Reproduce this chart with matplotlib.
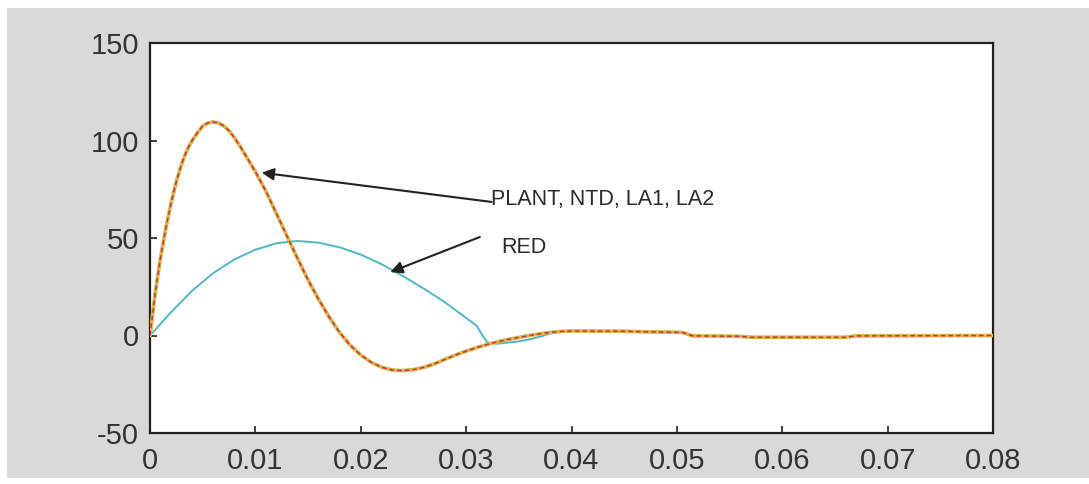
import matplotlib
matplotlib.use("Agg")
import matplotlib.pyplot as plt
from matplotlib import font_manager
from matplotlib.patches import Rectangle

# Time axis (s) and responses
t_plant = [0, 0.0005, 0.001, 0.0015, 0.002, 0.0025, 0.003, 0.0035, 0.004, 0.0045,
           0.005, 0.0055, 0.006, 0.0065, 0.007, 0.0075, 0.008, 0.0085, 0.009, 0.0095,
           0.010, 0.011, 0.012, 0.013, 0.014, 0.015, 0.016, 0.017, 0.018, 0.019,
           0.020, 0.021, 0.022, 0.023, 0.024, 0.025, 0.026, 0.027, 0.028, 0.029,
           0.030, 0.031, 0.032, 0.033, 0.034, 0.035, 0.036, 0.037, 0.038, 0.039,
           0.040, 0.045, 0.047, 0.0505, 0.0515, 0.056, 0.057, 0.066, 0.067, 0.080]
y_plant = [0, 22, 40, 55, 68, 79, 88, 95, 100, 104,
           107.5, 109, 109.5, 109, 107.5, 105, 101.5, 97.5, 93, 88.5,
           84, 74, 62.5, 51, 39.5, 28.5, 18.5, 9.5, 1.5, -5,
           -10, -13.8, -16.3, -17.7, -18, -17.5, -16.3, -14.5, -12.2, -10,
           -8, -6.2, -4.6, -3.2, -2, -1, 0, 0.9, 1.6, 2.1,
           2.3, 2.2, 1.9, 1.6, -0.2, -0.4, -0.9, -0.9, -0.2, 0]

t_red = [0, 0.002, 0.004, 0.006, 0.008, 0.010, 0.012, 0.014, 0.016, 0.018,
         0.020, 0.022, 0.024, 0.026, 0.028, 0.030, 0.031, 0.0315, 0.032, 0.033,
         0.034, 0.035, 0.036, 0.037, 0.038, 0.039, 0.040, 0.045, 0.047, 0.0505,
         0.0515, 0.056, 0.057, 0.066, 0.067, 0.080]
y_red = [0, 12, 23, 32, 39, 44, 47.3, 48.5, 47.6, 45.2,
         41.5, 36.5, 30.5, 24, 17, 9, 5, 0.5, -3.5, -4.2,
         -3.6, -3, -2, -0.6, 1, 1.9, 2.3, 2.2, 1.9, 1.6,
         -0.2, -0.4, -0.9, -0.9, -0.2, 0]

x_ticks = [0, 0.01, 0.02, 0.03, 0.04, 0.05, 0.06, 0.07, 0.08]
x_ticklabels = ["0", "0.01", "0.02", "0.03", "0.04", "0.05", "0.06", "0.07", "0.08"]
y_ticks = [-50, 0, 50, 100, 150]
y_ticklabels = ["-50", "0", "50", "100", "150"]

plant_label = "PLANT, NTD, LA1, LA2"
red_label = "RED"


def first_font(names):
    avail = {f.name for f in font_manager.fontManager.ttflist}
    for n in names:
        if n in avail:
            return n
    return "DejaVu Sans"


tick_font = first_font(["Liberation Sans Narrow", "DejaVu Sans Condensed", "Liberation Sans"])
text_font = first_font(["Liberation Sans", "Arial", "DejaVu Sans"])

fig = plt.figure(figsize=(10.89, 4.84), dpi=100, facecolor="white")
# grey window panel behind the axes
fig.add_artist(Rectangle((7 / 1089, 6 / 484), 1 - 7 / 1089, 1 - 14 / 484,
                         transform=fig.transFigure, facecolor="#d9d9d9",
                         edgecolor="none", zorder=-10))

ax = fig.add_axes([150 / 1089, 51 / 484, 843 / 1089, 390 / 484])
ax.set_zorder(1)
ax.set_facecolor("white")

ax.plot(t_plant, y_plant, color="#b9c046", lw=2.6, solid_capstyle="round", zorder=3)
ax.plot(t_plant, y_plant, color="#f0b050", lw=2.0, zorder=4)
ax.plot(t_plant, y_plant, color="#b83a3a", lw=1.1, dashes=(3, 2), zorder=5)
ax.plot(t_red, y_red, color="#4db8c6", lw=1.4, zorder=2)

ax.set_xlim(0, 0.08)
ax.set_ylim(-50, 150)
ax.set_xticks(x_ticks)
ax.set_xticklabels(x_ticklabels)
ax.set_yticks(y_ticks)
ax.set_yticklabels(y_ticklabels)

for s in ax.spines.values():
    s.set_color("#202020")
    s.set_linewidth(1.6)

ax.tick_params(axis="both", direction="in", length=5, width=1.2, color="#202020",
               labelcolor="#333333", labelsize=21)
ax.tick_params(axis="x", pad=10)
ax.tick_params(axis="y", pad=8)
for lab in ax.get_xticklabels() + ax.get_yticklabels():
    lab.set_fontfamily(tick_font)

arrow = dict(arrowstyle="-|>", color="#222222", lw=1.5, mutation_scale=18,
             shrinkA=0, shrinkB=0)
ax.annotate("", xy=(0.0106, 83.5), xytext=(0.0324, 68.5), arrowprops=arrow, zorder=6)
ax.text(0.0324, 69.5, plant_label, fontsize=15.5, family=text_font, color="#2a2a2a",
        va="center", ha="left")
ax.annotate("", xy=(0.0228, 32.5), xytext=(0.0313, 50.5), arrowprops=arrow, zorder=6)
ax.text(0.0333, 45, red_label, fontsize=15.5, family=text_font, color="#2a2a2a",
        va="center", ha="left")

fig.savefig("out.png", dpi=100, facecolor=fig.get_facecolor())
